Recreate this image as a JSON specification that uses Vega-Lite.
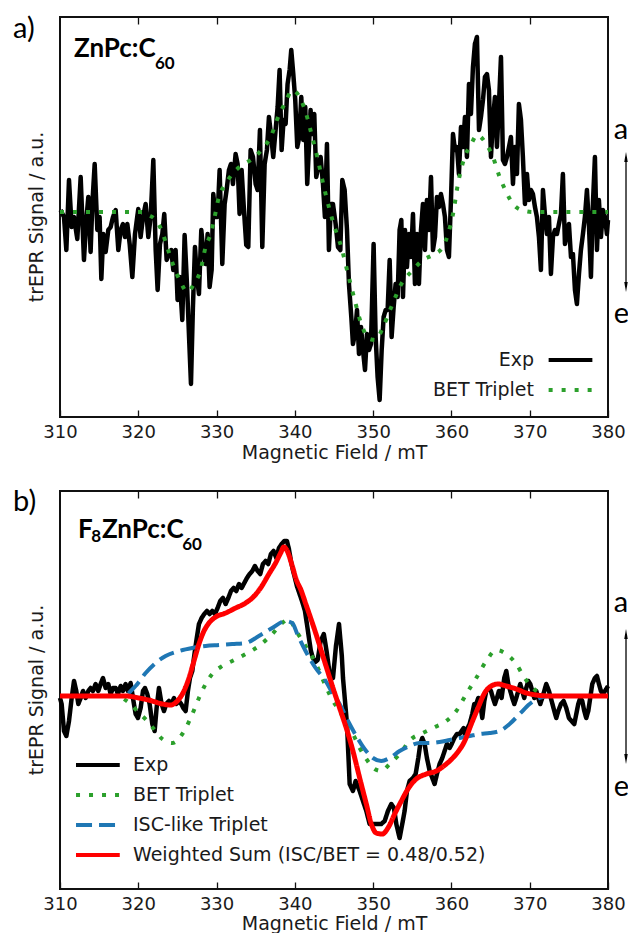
{
"$schema": "https://vega.github.io/schema/vega-lite/v6.json",
"autosize": {"type": "pad"},
"padding": {"left": 12, "top": 13, "right": 0, "bottom": 0},
"background": "white",
"bounds": "flush",
"spacing": 74,
"config": {
  "view": {"stroke": "#111111", "strokeWidth": 2},
  "axis": {"labelFont": "DejaVu Sans", "labelFontSize": 18, "titleFont": "DejaVu Sans", "titleFontSize": 19, "titleFontWeight": "normal", "labelColor": "#1a1a1a", "titleColor": "#1a1a1a", "grid": false, "domain": false, "tickColor": "#111111", "tickWidth": 1.3, "tickSize": -7, "labelPadding": 13, "labelFlush": false}
},
"datasets": {
  "aExp": [
    {"B":310.08,"S":2},{"B":310.51,"S":-5},{"B":310.81,"S":-38},{"B":311.15,"S":32},{"B":311.49,"S":-15},{"B":311.79,"S":-5},{"B":312.21,"S":-27},{"B":312.64,"S":35},{"B":313.06,"S":-48},{"B":313.36,"S":-8},{"B":313.62,"S":15},{"B":313.91,"S":-40},{"B":314.13,"S":8},{"B":314.43,"S":48},{"B":314.77,"S":-18},{"B":315.06,"S":-5},{"B":315.28,"S":-67},{"B":315.53,"S":-22},{"B":315.83,"S":-40},{"B":316.17,"S":-18},{"B":316.47,"S":-15},{"B":316.77,"S":-5},{"B":317.11,"S":2},{"B":317.45,"S":-38},{"B":317.75,"S":-18},{"B":318.04,"S":-12},{"B":318.3,"S":-25},{"B":318.6,"S":-12},{"B":318.9,"S":-32},{"B":319.24,"S":-65},{"B":319.58,"S":-22},{"B":320.0,"S":3},{"B":320.3,"S":-25},{"B":320.6,"S":-5},{"B":320.94,"S":8},{"B":321.28,"S":-25},{"B":321.58,"S":-5},{"B":321.92,"S":52},{"B":322.22,"S":-38},{"B":322.47,"S":-78},{"B":322.77,"S":-32},{"B":323.07,"S":-22},{"B":323.32,"S":-2},{"B":323.62,"S":-48},{"B":323.92,"S":-42},{"B":324.22,"S":-38},{"B":324.47,"S":-58},{"B":324.77,"S":-38},{"B":325.02,"S":-88},{"B":325.28,"S":-65},{"B":325.62,"S":-108},{"B":325.92,"S":-23},{"B":326.22,"S":-72},{"B":326.47,"S":-122},{"B":326.73,"S":-172},{"B":326.98,"S":-95},{"B":327.24,"S":-35},{"B":327.49,"S":-65},{"B":327.75,"S":-82},{"B":328.05,"S":-18},{"B":328.3,"S":-38},{"B":328.6,"S":-52},{"B":328.86,"S":-22},{"B":329.11,"S":-75},{"B":329.37,"S":-58},{"B":329.58,"S":18},{"B":329.88,"S":-5},{"B":330.13,"S":-5},{"B":330.39,"S":42},{"B":330.73,"S":-52},{"B":331.03,"S":8},{"B":331.28,"S":22},{"B":331.58,"S":42},{"B":331.84,"S":48},{"B":332.09,"S":28},{"B":332.43,"S":58},{"B":332.69,"S":48},{"B":332.94,"S":-2},{"B":333.2,"S":42},{"B":333.5,"S":2},{"B":333.79,"S":-33},{"B":334.05,"S":-35},{"B":334.35,"S":62},{"B":334.65,"S":55},{"B":334.99,"S":28},{"B":335.24,"S":22},{"B":335.54,"S":82},{"B":335.84,"S":-35},{"B":336.14,"S":48},{"B":336.43,"S":62},{"B":336.69,"S":95},{"B":336.99,"S":75},{"B":337.24,"S":55},{"B":337.54,"S":82},{"B":337.8,"S":105},{"B":338.05,"S":142},{"B":338.31,"S":62},{"B":338.56,"S":92},{"B":338.82,"S":88},{"B":339.07,"S":128},{"B":339.33,"S":142},{"B":339.54,"S":162},{"B":339.8,"S":138},{"B":340.05,"S":112},{"B":340.31,"S":65},{"B":340.56,"S":75},{"B":340.82,"S":115},{"B":341.07,"S":72},{"B":341.33,"S":105},{"B":341.58,"S":28},{"B":341.8,"S":65},{"B":342.01,"S":102},{"B":342.22,"S":78},{"B":342.48,"S":98},{"B":342.73,"S":35},{"B":342.99,"S":45},{"B":343.29,"S":55},{"B":343.59,"S":28},{"B":343.84,"S":-5},{"B":344.1,"S":68},{"B":344.35,"S":-38},{"B":344.61,"S":8},
    {"B":344.87,"S":8},{"B":345.21,"S":-12},{"B":345.51,"S":-35},{"B":345.81,"S":-38},{"B":346.06,"S":32},{"B":346.36,"S":22},{"B":346.66,"S":-18},{"B":346.91,"S":-72},{"B":347.21,"S":-105},{"B":347.42,"S":-132},{"B":347.68,"S":-122},{"B":347.94,"S":-98},{"B":348.19,"S":-142},{"B":348.45,"S":-115},{"B":348.7,"S":-138},{"B":348.96,"S":-158},{"B":349.21,"S":-122},{"B":349.47,"S":-138},{"B":349.72,"S":-132},{"B":350.06,"S":-32},{"B":350.32,"S":-125},{"B":350.57,"S":-165},{"B":350.83,"S":-188},{"B":351.09,"S":-138},{"B":351.34,"S":-105},{"B":351.6,"S":-98},{"B":351.85,"S":-98},{"B":352.11,"S":-48},{"B":352.36,"S":-125},{"B":352.62,"S":-95},{"B":352.87,"S":-72},{"B":353.13,"S":-85},{"B":353.38,"S":-18},{"B":353.6,"S":-8},{"B":353.81,"S":-85},{"B":354.07,"S":-18},{"B":354.32,"S":-55},{"B":354.58,"S":-22},{"B":354.83,"S":-45},{"B":355.09,"S":-2},{"B":355.34,"S":-72},{"B":355.6,"S":-22},{"B":355.85,"S":-72},{"B":356.11,"S":-18},{"B":356.36,"S":8},{"B":356.62,"S":-38},{"B":356.87,"S":12},{"B":357.13,"S":-18},{"B":357.39,"S":35},{"B":357.64,"S":-38},{"B":357.9,"S":-25},{"B":358.15,"S":15},{"B":358.41,"S":5},{"B":358.66,"S":18},{"B":358.92,"S":8},{"B":359.17,"S":-5},{"B":359.43,"S":-38},{"B":359.68,"S":-45},{"B":359.94,"S":12},{"B":360.2,"S":78},{"B":360.45,"S":62},{"B":360.71,"S":65},{"B":360.96,"S":38},{"B":361.22,"S":85},{"B":361.47,"S":65},{"B":361.73,"S":95},{"B":361.98,"S":55},{"B":362.24,"S":128},{"B":362.49,"S":98},{"B":362.75,"S":145},{"B":363.0,"S":168},{"B":363.26,"S":175},{"B":363.52,"S":82},{"B":363.77,"S":95},{"B":364.03,"S":112},{"B":364.28,"S":135},{"B":364.54,"S":138},{"B":364.79,"S":122},{"B":365.05,"S":55},{"B":365.3,"S":92},{"B":365.56,"S":115},{"B":365.81,"S":65},{"B":366.07,"S":108},{"B":366.33,"S":155},{"B":366.58,"S":52},{"B":366.84,"S":48},{"B":367.09,"S":55},{"B":367.35,"S":65},{"B":367.6,"S":75},{"B":367.86,"S":28},{"B":368.11,"S":65},{"B":368.37,"S":38},{"B":368.62,"S":108},{"B":368.88,"S":92},{"B":369.13,"S":55},{"B":369.39,"S":8},{"B":369.65,"S":38},{"B":369.9,"S":12},{"B":370.16,"S":22},{"B":370.41,"S":18},{"B":370.67,"S":5},{"B":370.92,"S":-5},{"B":371.18,"S":-25},{"B":371.43,"S":-58},{"B":371.69,"S":22},{"B":371.94,"S":-2},{"B":372.2,"S":-22},{"B":372.46,"S":-5},{"B":372.71,"S":-62},{"B":372.97,"S":-25},{"B":373.22,"S":-18},{"B":373.48,"S":-22},{"B":373.73,"S":-12},{"B":373.99,"S":-2},{"B":374.24,"S":38},{"B":374.5,"S":-32},{"B":374.76,"S":-22},{"B":375.01,"S":-12},{"B":375.27,"S":-45},{"B":375.52,"S":-42},{"B":375.78,"S":-78},{"B":376.03,"S":-92},{"B":376.29,"S":-62},{"B":376.54,"S":-38},{"B":376.8,"S":-22},{"B":377.05,"S":-5},{"B":377.31,"S":22},{"B":377.56,"S":-12},{"B":377.82,"S":-65},{"B":378.07,"S":8},{"B":378.33,"S":55},{"B":378.59,"S":-38},{"B":378.84,"S":12},{"B":379.1,"S":-25},{"B":379.35,"S":2},{"B":379.61,"S":-5},{"B":379.86,"S":-22},{"B":380.0,"S":-8}
  ],
  "aBET": [
    {"B":310,"S":0},{"B":316,"S":0},{"B":320.5,"S":0},{"B":321.3,"S":-3},{"B":322.22,"S":-8},{"B":323.07,"S":-20},{"B":323.57,"S":-32},{"B":324.56,"S":-55},{"B":325.41,"S":-70},{"B":326.26,"S":-80},{"B":327.11,"S":-72},{"B":327.96,"S":-58},{"B":328.6,"S":-35},{"B":329.24,"S":-22},{"B":329.67,"S":-8},{"B":330.3,"S":15},{"B":331.15,"S":28},{"B":332.0,"S":38},{"B":333.28,"S":47},{"B":334.56,"S":53},{"B":335.84,"S":63},{"B":336.9,"S":75},{"B":337.97,"S":97},{"B":338.82,"S":110},{"B":339.67,"S":122},{"B":340.73,"S":113},{"B":341.37,"S":100},{"B":342.22,"S":75},{"B":342.86,"S":55},{"B":343.71,"S":25},{"B":344.35,"S":5},{"B":344.87,"S":-10},{"B":345.93,"S":-35},{"B":346.79,"S":-62},{"B":347.64,"S":-88},{"B":348.49,"S":-112},{"B":349.55,"S":-127},{"B":350.32,"S":-128},{"B":351.26,"S":-115},{"B":352.32,"S":-95},{"B":353.6,"S":-72},{"B":355.09,"S":-58},{"B":356.36,"S":-48},{"B":357.64,"S":-43},{"B":358.92,"S":-35},{"B":359.56,"S":-22},{"B":360.2,"S":-2},{"B":360.83,"S":28},{"B":361.69,"S":55},{"B":362.54,"S":68},{"B":363.26,"S":77},{"B":364.45,"S":68},{"B":365.3,"S":55},{"B":366.16,"S":35},{"B":367.0,"S":20},{"B":367.86,"S":8},{"B":368.92,"S":2},{"B":370.41,"S":0},{"B":380,"S":0}
  ],
  "bExp": [
    {"B":310.0,"S":-2},{"B":310.21,"S":-8},{"B":310.51,"S":-35},{"B":310.81,"S":-40},{"B":311.15,"S":-25},{"B":311.49,"S":-2},{"B":311.79,"S":15},{"B":312.08,"S":5},{"B":312.34,"S":-8},{"B":312.64,"S":-2},{"B":312.94,"S":5},{"B":313.28,"S":-2},{"B":313.62,"S":5},{"B":313.91,"S":8},{"B":314.21,"S":5},{"B":314.55,"S":12},{"B":314.89,"S":5},{"B":315.19,"S":12},{"B":315.49,"S":18},{"B":315.83,"S":8},{"B":316.17,"S":12},{"B":316.47,"S":2},{"B":316.77,"S":8},{"B":317.11,"S":8},{"B":317.4,"S":2},{"B":317.75,"S":10},{"B":318.04,"S":5},{"B":318.38,"S":12},{"B":318.68,"S":5},{"B":319.02,"S":13},{"B":319.32,"S":-2},{"B":319.66,"S":-18},{"B":319.96,"S":-22},{"B":320.3,"S":-12},{"B":320.6,"S":5},{"B":320.85,"S":8},{"B":321.15,"S":2},{"B":321.45,"S":-8},{"B":321.79,"S":-28},{"B":322.09,"S":-35},{"B":322.34,"S":-12},{"B":322.64,"S":8},{"B":322.98,"S":-8},{"B":323.28,"S":-15},{"B":323.58,"S":-8},{"B":323.92,"S":-5},{"B":324.26,"S":-8},{"B":324.56,"S":-2},{"B":324.85,"S":-8},{"B":325.2,"S":-5},{"B":325.49,"S":-8},{"B":325.75,"S":-12},{"B":326.05,"S":-15},{"B":326.34,"S":5},{"B":326.6,"S":18},{"B":326.9,"S":25},{"B":327.11,"S":38},{"B":327.41,"S":55},{"B":327.75,"S":72},{"B":328.09,"S":78},{"B":328.43,"S":82},{"B":328.77,"S":85},{"B":329.11,"S":82},{"B":329.45,"S":85},{"B":329.79,"S":82},{"B":330.13,"S":88},{"B":330.47,"S":95},{"B":330.81,"S":98},{"B":331.16,"S":92},{"B":331.5,"S":98},{"B":331.84,"S":105},{"B":332.18,"S":108},{"B":332.52,"S":105},{"B":332.86,"S":112},{"B":333.2,"S":108},{"B":333.54,"S":113},{"B":333.88,"S":118},{"B":334.22,"S":122},{"B":334.56,"S":125},{"B":334.9,"S":130},{"B":335.24,"S":125},{"B":335.58,"S":122},{"B":335.92,"S":132},{"B":336.26,"S":135},{"B":336.6,"S":132},{"B":336.94,"S":142},{"B":337.28,"S":145},{"B":337.63,"S":138},{"B":337.97,"S":148},{"B":338.31,"S":152},{"B":338.65,"S":155},{"B":338.99,"S":155},{"B":339.24,"S":147},{"B":339.5,"S":135},{"B":339.75,"S":126},{"B":340.01,"S":118},{"B":340.26,"S":110},{"B":340.52,"S":104},{"B":340.78,"S":98},{"B":341.03,"S":92},{"B":341.29,"S":85},{"B":341.54,"S":72},{"B":341.8,"S":58},{"B":342.05,"S":45},{"B":342.31,"S":38},{"B":342.6,"S":34},{"B":342.91,"S":36},{"B":343.3,"S":55},{"B":343.7,"S":62},{"B":344.05,"S":45},{"B":344.4,"S":25},{"B":344.87,"S":18},{"B":345.25,"S":50},{"B":345.64,"S":72},{"B":346.0,"S":40},{"B":346.15,"S":18},{"B":346.66,"S":-28},{"B":347.0,"S":-88},{"B":347.42,"S":-95},{"B":347.76,"S":-85},{"B":348.28,"S":-95},{"B":348.7,"S":-105},{"B":349.13,"S":-115},{"B":349.55,"S":-128},{"B":349.98,"S":-128},{"B":350.4,"S":-128},{"B":351.04,"S":-128},{"B":351.47,"S":-125},{"B":351.89,"S":-115},{"B":352.32,"S":-108},{"B":352.66,"S":-112},{"B":352.96,"S":-128},{"B":353.38,"S":-142},{"B":353.72,"S":-128},{"B":354.02,"S":-115},{"B":354.32,"S":-95},{"B":354.66,"S":-85},{"B":355.09,"S":-82},{"B":355.43,"S":-78},{"B":355.77,"S":-62},{"B":356.02,"S":-48},{"B":356.28,"S":-42},{"B":356.58,"S":-48},{"B":356.87,"S":-62},{"B":357.22,"S":-75},{"B":357.56,"S":-82},{"B":357.85,"S":-88},{"B":358.15,"S":-78},{"B":358.49,"S":-68},{"B":358.83,"S":-62},{"B":359.13,"S":-55},{"B":359.43,"S":-48},{"B":359.77,"S":-52},{"B":360.03,"S":-48},{"B":360.37,"S":-42},{"B":360.71,"S":-38},{"B":361.05,"S":-38},{"B":361.3,"S":-35},{"B":361.56,"S":-32},{"B":361.81,"S":-42},{"B":362.07,"S":-32},{"B":362.32,"S":-28},{"B":362.66,"S":-18},{"B":362.92,"S":-8},{"B":363.17,"S":-8},{"B":363.43,"S":-2},{"B":363.69,"S":-8},{"B":363.94,"S":-22},{"B":364.2,"S":-5},{"B":364.45,"S":5},{"B":364.79,"S":8},{"B":365.05,"S":5},{"B":365.3,"S":-2},{"B":365.56,"S":-8},{"B":365.81,"S":-2},{"B":366.07,"S":5},{"B":366.41,"S":-2},{"B":366.75,"S":18},{"B":367.01,"S":25},{"B":367.26,"S":12},{"B":367.52,"S":5},{"B":367.77,"S":-2},{"B":368.03,"S":-8},{"B":368.28,"S":-2},{"B":368.54,"S":5},{"B":368.79,"S":12},{"B":369.05,"S":5},{"B":369.3,"S":-2},{"B":369.56,"S":8},{"B":369.82,"S":15},{"B":370.07,"S":12},{"B":370.33,"S":5},{"B":370.58,"S":-2},{"B":370.84,"S":5},{"B":371.09,"S":-2},{"B":371.35,"S":-8},{"B":371.6,"S":-2},{"B":371.86,"S":5},{"B":372.11,"S":12},{"B":372.46,"S":5},{"B":372.8,"S":-5},{"B":373.14,"S":-15},{"B":373.39,"S":-22},{"B":373.65,"S":-15},{"B":373.99,"S":-8},{"B":374.33,"S":-5},{"B":374.67,"S":-12},{"B":375.01,"S":-22},{"B":375.35,"S":-25},{"B":375.69,"S":-28},{"B":375.95,"S":-18},{"B":376.2,"S":-8},{"B":376.46,"S":-2},{"B":376.71,"S":-5},{"B":376.97,"S":-15},{"B":377.22,"S":-22},{"B":377.48,"S":-15},{"B":377.73,"S":-2},{"B":377.99,"S":12},{"B":378.33,"S":18},{"B":378.59,"S":20},{"B":378.84,"S":12},{"B":379.1,"S":5},{"B":379.35,"S":2},{"B":379.61,"S":5},{"B":379.86,"S":8},{"B":380.0,"S":10}
  ],
  "bBET": [
    {"B":310,"S":0},{"B":317.5,"S":0},{"B":317.96,"S":-2},{"B":319.02,"S":-8},{"B":320.09,"S":-17},{"B":321.15,"S":-25},{"B":322.0,"S":-33},{"B":323.07,"S":-43},{"B":324.34,"S":-47},{"B":325.62,"S":-38},{"B":326.69,"S":-22},{"B":327.75,"S":-2},{"B":328.6,"S":12},{"B":329.45,"S":22},{"B":330.73,"S":30},{"B":332.0,"S":35},{"B":333.71,"S":42},{"B":335.41,"S":50},{"B":337.11,"S":62},{"B":338.39,"S":73},{"B":339.24,"S":77},{"B":340.09,"S":66},{"B":341.37,"S":50},{"B":342.65,"S":33},{"B":343.93,"S":10},{"B":344.87,"S":-5},{"B":345.72,"S":-15},{"B":346.57,"S":-27},{"B":347.42,"S":-38},{"B":348.28,"S":-52},{"B":349.13,"S":-63},{"B":350.19,"S":-73},{"B":351.04,"S":-75},{"B":352.11,"S":-68},{"B":353.38,"S":-58},{"B":354.87,"S":-43},{"B":356.36,"S":-37},{"B":357.64,"S":-32},{"B":359.34,"S":-25},{"B":360.62,"S":-15},{"B":361.9,"S":2},{"B":363.17,"S":18},{"B":364.45,"S":35},{"B":365.73,"S":46},{"B":367.0,"S":42},{"B":368.28,"S":32},{"B":369.35,"S":18},{"B":370.41,"S":8},{"B":371.48,"S":2},{"B":372.54,"S":0},{"B":380,"S":0}
  ],
  "bISC": [
    {"B":310,"S":0},{"B":318.0,"S":0},{"B":319.66,"S":10},{"B":320.94,"S":23},{"B":322.22,"S":33},{"B":323.49,"S":40},{"B":325.2,"S":45},{"B":326.9,"S":48},{"B":328.6,"S":50},{"B":330.3,"S":51},{"B":332.0,"S":52},{"B":333.7,"S":53},{"B":335.4,"S":60},{"B":337.1,"S":68},{"B":338.8,"S":75},{"B":339.67,"S":73},{"B":340.31,"S":62},{"B":341.37,"S":45},{"B":342.65,"S":28},{"B":343.93,"S":15},{"B":344.87,"S":2},{"B":345.72,"S":-8},{"B":346.79,"S":-25},{"B":347.85,"S":-40},{"B":348.91,"S":-53},{"B":349.98,"S":-62},{"B":351.04,"S":-65},{"B":352.11,"S":-62},{"B":353.38,"S":-55},{"B":354.66,"S":-50},{"B":355.94,"S":-47},{"B":357.22,"S":-47},{"B":358.49,"S":-46},{"B":359.77,"S":-44},{"B":361.05,"S":-42},{"B":362.32,"S":-40},{"B":363.6,"S":-38},{"B":364.88,"S":-37},{"B":366.16,"S":-35},{"B":367.43,"S":-28},{"B":368.71,"S":-18},{"B":369.99,"S":-8},{"B":371.26,"S":-2},{"B":372.54,"S":0},{"B":380,"S":0}
  ],
  "bSum": [
    {"B":310,"S":0},{"B":318.38,"S":0},{"B":320.09,"S":-2},{"B":321.79,"S":-5},{"B":323.07,"S":-8},{"B":324.13,"S":-9},{"B":324.98,"S":-5},{"B":325.83,"S":5},{"B":326.47,"S":18},{"B":327.11,"S":35},{"B":327.75,"S":52},{"B":328.39,"S":65},{"B":329.03,"S":73},{"B":329.88,"S":79},{"B":331.16,"S":83},{"B":332.43,"S":88},{"B":333.5,"S":92},{"B":334.56,"S":98},{"B":335.62,"S":108},{"B":336.69,"S":122},{"B":337.54,"S":133},{"B":338.18,"S":143},{"B":338.6,"S":149},{"B":339.03,"S":145},{"B":339.63,"S":131},{"B":340.2,"S":116},{"B":340.78,"S":106},{"B":341.4,"S":92},{"B":342.06,"S":77},{"B":342.7,"S":62},{"B":343.34,"S":46},{"B":344.1,"S":27},{"B":344.87,"S":8},{"B":345.72,"S":-12},{"B":346.57,"S":-32},{"B":347.42,"S":-55},{"B":348.28,"S":-82},{"B":349.13,"S":-108},{"B":349.77,"S":-128},{"B":350.4,"S":-137},{"B":351.17,"S":-138},{"B":351.89,"S":-132},{"B":352.75,"S":-118},{"B":353.6,"S":-105},{"B":354.45,"S":-93},{"B":355.51,"S":-83},{"B":356.79,"S":-78},{"B":358.07,"S":-75},{"B":359.34,"S":-68},{"B":360.62,"S":-58},{"B":361.69,"S":-45},{"B":362.54,"S":-28},{"B":363.39,"S":-12},{"B":364.24,"S":3},{"B":365.09,"S":10},{"B":365.94,"S":12},{"B":367.0,"S":10},{"B":368.28,"S":7},{"B":369.56,"S":3},{"B":370.84,"S":1},{"B":372.54,"S":0},{"B":380,"S":0}
  ]
},
"vconcat": [
  {
    "width": 548, "height": 400,
    "resolve": {"axis": {"x": "independent"}},
    "layer": [
      {
        "data": {"name": "aExp"},
        "mark": {"type": "line", "strokeWidth": 4.5, "strokeJoin": "round"},
        "encoding": {
          "x": {"field": "B", "type": "quantitative", "scale": {"domain": [310, 380], "nice": false, "zero": false}, "axis": {"orient": "bottom", "values": [310,320,330,340,350,360,370,380], "format": "d", "title": "Magnetic Field / mT", "titlePadding": 2}},
          "y": {"field": "S", "type": "quantitative", "scale": {"domain": [-205, 195], "nice": false, "zero": false}, "axis": null},
          "color": {"datum": "Exp", "type": "nominal", "scale": {"domain": ["Exp", "BET Triplet"], "range": ["#000000", "#2ca02c"]},
            "legend": {"title": null, "orient": "none", "legendX": 491, "legendY": 323.5, "symbolType": "M-1.25,0L1.25,0", "symbolSize": 1225, "symbolStrokeWidth": 4, "labelFont": "DejaVu Sans", "labelFontSize": 19, "labelColor": "#1a1a1a", "labelAlign": "right", "labelOffset": -56, "rowPadding": 0, "padding": 0, "labelLimit": 0, "symbolOffset": 0}},
          "strokeDash": {"datum": "Exp", "type": "nominal", "scale": {"domain": ["Exp", "BET Triplet"], "range": [[1, 0], [4, 9]]}}
        }
      },
      {
        "data": {"name": "aBET"},
        "mark": {"type": "line", "strokeWidth": 4, "interpolate": "monotone"},
        "encoding": {
          "x": {"field": "B", "type": "quantitative", "axis": {"orient": "top", "values": [320,330,340,350,360,370], "labels": false, "title": null}},
          "y": {"field": "S", "type": "quantitative", "axis": null},
          "color": {"datum": "BET Triplet", "type": "nominal"},
          "strokeDash": {"datum": "BET Triplet", "type": "nominal"}
        }
      },
      {
        "data": {"values": [{}]},
        "mark": {"type": "text", "text": "trEPR Signal / a.u.", "font": "DejaVu Sans", "fontSize": 19, "angle": -90, "align": "center", "baseline": "alphabetic", "color": "#1a1a1a"},
        "encoding": {"x": {"datum": 307.89, "type": "quantitative", "axis": null}, "y": {"datum": -5, "type": "quantitative", "axis": null}}
      },
      {
        "data": {"values": [{}]},
        "mark": {"type": "text", "text": "a)", "font": "Lato", "fontSize": 29, "align": "left", "baseline": "alphabetic", "color": "#000000"},
        "encoding": {"x": {"datum": 304.0, "type": "quantitative", "axis": null}, "y": {"datum": 174, "type": "quantitative", "axis": null}}
      },
      {
        "data": {"values": [{}]},
        "mark": {"type": "text", "text": "ZnPc:C", "font": "Lato", "fontWeight": "bold", "fontSize": 26, "align": "left", "baseline": "alphabetic", "color": "#000000"},
        "encoding": {"x": {"datum": 311.79, "type": "quantitative", "axis": null}, "y": {"datum": 155, "type": "quantitative", "axis": null}}
      },
      {
        "data": {"values": [{}]},
        "mark": {"type": "text", "text": "60", "font": "Lato", "fontWeight": "bold", "fontSize": 17, "align": "left", "baseline": "alphabetic", "color": "#000000"},
        "encoding": {"x": {"datum": 322.13, "type": "quantitative", "axis": null}, "y": {"datum": 143, "type": "quantitative", "axis": null}}
      },
      {
        "data": {"values": [{}]},
        "mark": {"type": "text", "text": "a", "font": "Lato", "fontSize": 29, "align": "left", "baseline": "alphabetic", "color": "#000000"},
        "encoding": {"x": {"datum": 380.75, "type": "quantitative", "axis": null}, "y": {"datum": 73, "type": "quantitative", "axis": null}}
      },
      {
        "data": {"values": [{}]},
        "mark": {"type": "text", "text": "e", "font": "Lato", "fontSize": 29, "align": "left", "baseline": "alphabetic", "color": "#000000"},
        "encoding": {"x": {"datum": 380.75, "type": "quantitative", "axis": null}, "y": {"datum": -111, "type": "quantitative", "axis": null}}
      },
      {
        "data": {"values": [{}]},
        "mark": {"type": "rule", "strokeWidth": 1.3, "color": "#000000"},
        "encoding": {"x": {"datum": 382.3, "type": "quantitative", "axis": null}, "y": {"datum": 55, "type": "quantitative", "axis": null}, "y2": {"datum": -75}}
      },
      {
        "data": {"values": [{}]},
        "mark": {"type": "point", "shape": "M0,-1L0.35,1L-0.35,1Z", "filled": true, "size": 100, "color": "#000000", "opacity": 1},
        "encoding": {"x": {"datum": 382.3, "type": "quantitative", "axis": null}, "y": {"datum": 55, "type": "quantitative", "axis": null}}
      },
      {
        "data": {"values": [{}]},
        "mark": {"type": "point", "shape": "M0,1L0.35,-1L-0.35,-1Z", "filled": true, "size": 100, "color": "#000000", "opacity": 1},
        "encoding": {"x": {"datum": 382.3, "type": "quantitative", "axis": null}, "y": {"datum": -75, "type": "quantitative", "axis": null}}
      }
    ]
  },
  {
    "width": 548, "height": 398,
    "resolve": {"axis": {"x": "independent"}},
    "layer": [
      {
        "data": {"name": "bExp"},
        "mark": {"type": "line", "strokeWidth": 4.5, "strokeJoin": "round"},
        "encoding": {
          "x": {"field": "B", "type": "quantitative", "scale": {"domain": [310, 380], "nice": false, "zero": false}, "axis": {"orient": "bottom", "values": [310,320,330,340,350,360,370,380], "format": "d", "title": "Magnetic Field / mT", "titlePadding": 1}},
          "y": {"field": "S", "type": "quantitative", "scale": {"domain": [-193, 205], "nice": false, "zero": false}, "axis": null},
          "color": {"datum": "Exp", "type": "nominal", "scale": {"domain": ["Exp", "BET Triplet", "ISC-like Triplet", "Weighted Sum (ISC/BET = 0.48/0.52)"], "range": ["#000000", "#2ca02c", "#1f77b4", "#ff0000"]},
            "legend": {"title": null, "orient": "none", "legendX": 18.4, "legendY": 254.5, "symbolType": "M-1.25,0L1.25,0", "symbolSize": 1225, "symbolStrokeWidth": 4, "labelFont": "DejaVu Sans", "labelFontSize": 19, "labelColor": "#1a1a1a", "labelAlign": "left", "labelOffset": 15.6, "rowPadding": 0, "padding": 0, "labelLimit": 0, "symbolOffset": 0}},
          "strokeDash": {"datum": "Exp", "type": "nominal", "scale": {"domain": ["Exp", "BET Triplet", "ISC-like Triplet", "Weighted Sum (ISC/BET = 0.48/0.52)"], "range": [[1, 0], [4, 9], [16, 7], [1, 0]]}}
        }
      },
      {
        "data": {"name": "bBET"},
        "mark": {"type": "line", "strokeWidth": 4, "interpolate": "monotone"},
        "encoding": {
          "x": {"field": "B", "type": "quantitative", "axis": {"orient": "top", "values": [320,330,340,350,360,370], "labels": false, "title": null}},
          "y": {"field": "S", "type": "quantitative", "axis": null},
          "color": {"datum": "BET Triplet", "type": "nominal"},
          "strokeDash": {"datum": "BET Triplet", "type": "nominal"}
        }
      },
      {
        "data": {"name": "bISC"},
        "mark": {"type": "line", "strokeWidth": 4, "interpolate": "monotone"},
        "encoding": {
          "x": {"field": "B", "type": "quantitative", "axis": null},
          "y": {"field": "S", "type": "quantitative", "axis": null},
          "color": {"datum": "ISC-like Triplet", "type": "nominal"},
          "strokeDash": {"datum": "ISC-like Triplet", "type": "nominal"}
        }
      },
      {
        "data": {"name": "bSum"},
        "mark": {"type": "line", "strokeWidth": 5, "interpolate": "monotone", "strokeJoin": "round"},
        "encoding": {
          "x": {"field": "B", "type": "quantitative", "axis": null},
          "y": {"field": "S", "type": "quantitative", "axis": null},
          "color": {"datum": "Weighted Sum (ISC/BET = 0.48/0.52)", "type": "nominal"},
          "strokeDash": {"datum": "Weighted Sum (ISC/BET = 0.48/0.52)", "type": "nominal"}
        }
      },
      {
        "data": {"values": [{}]},
        "mark": {"type": "text", "text": "trEPR Signal / a.u.", "font": "DejaVu Sans", "fontSize": 19, "angle": -90, "align": "center", "baseline": "alphabetic", "color": "#1a1a1a"},
        "encoding": {"x": {"datum": 307.89, "type": "quantitative", "axis": null}, "y": {"datum": 6, "type": "quantitative", "axis": null}}
      },
      {
        "data": {"values": [{}]},
        "mark": {"type": "text", "text": "b)", "font": "Lato", "fontSize": 29, "align": "left", "baseline": "alphabetic", "color": "#000000"},
        "encoding": {"x": {"datum": 304.0, "type": "quantitative", "axis": null}, "y": {"datum": 185, "type": "quantitative", "axis": null}}
      },
      {
        "data": {"values": [{}]},
        "mark": {"type": "text", "text": "F", "font": "Lato", "fontWeight": "bold", "fontSize": 26, "align": "left", "baseline": "alphabetic", "color": "#000000"},
        "encoding": {"x": {"datum": 312.3, "type": "quantitative", "axis": null}, "y": {"datum": 158, "type": "quantitative", "axis": null}}
      },
      {
        "data": {"values": [{}]},
        "mark": {"type": "text", "text": "8", "font": "Lato", "fontWeight": "bold", "fontSize": 17, "align": "left", "baseline": "alphabetic", "color": "#000000"},
        "encoding": {"x": {"datum": 314.0, "type": "quantitative", "axis": null}, "y": {"datum": 154, "type": "quantitative", "axis": null}}
      },
      {
        "data": {"values": [{}]},
        "mark": {"type": "text", "text": "ZnPc:C", "font": "Lato", "fontWeight": "bold", "fontSize": 26, "align": "left", "baseline": "alphabetic", "color": "#000000"},
        "encoding": {"x": {"datum": 315.35, "type": "quantitative", "axis": null}, "y": {"datum": 158, "type": "quantitative", "axis": null}}
      },
      {
        "data": {"values": [{}]},
        "mark": {"type": "text", "text": "60", "font": "Lato", "fontWeight": "bold", "fontSize": 17, "align": "left", "baseline": "alphabetic", "color": "#000000"},
        "encoding": {"x": {"datum": 325.6, "type": "quantitative", "axis": null}, "y": {"datum": 146, "type": "quantitative", "axis": null}}
      },
      {
        "data": {"values": [{}]},
        "mark": {"type": "text", "text": "a", "font": "Lato", "fontSize": 29, "align": "left", "baseline": "alphabetic", "color": "#000000"},
        "encoding": {"x": {"datum": 380.75, "type": "quantitative", "axis": null}, "y": {"datum": 84, "type": "quantitative", "axis": null}}
      },
      {
        "data": {"values": [{}]},
        "mark": {"type": "text", "text": "e", "font": "Lato", "fontSize": 29, "align": "left", "baseline": "alphabetic", "color": "#000000"},
        "encoding": {"x": {"datum": 380.75, "type": "quantitative", "axis": null}, "y": {"datum": -100, "type": "quantitative", "axis": null}}
      },
      {
        "data": {"values": [{}]},
        "mark": {"type": "rule", "strokeWidth": 1.3, "color": "#000000"},
        "encoding": {"x": {"datum": 382.3, "type": "quantitative", "axis": null}, "y": {"datum": 62, "type": "quantitative", "axis": null}, "y2": {"datum": -63}}
      },
      {
        "data": {"values": [{}]},
        "mark": {"type": "point", "shape": "M0,-1L0.35,1L-0.35,1Z", "filled": true, "size": 100, "color": "#000000", "opacity": 1},
        "encoding": {"x": {"datum": 382.3, "type": "quantitative", "axis": null}, "y": {"datum": 62, "type": "quantitative", "axis": null}}
      },
      {
        "data": {"values": [{}]},
        "mark": {"type": "point", "shape": "M0,1L0.35,-1L-0.35,-1Z", "filled": true, "size": 100, "color": "#000000", "opacity": 1},
        "encoding": {"x": {"datum": 382.3, "type": "quantitative", "axis": null}, "y": {"datum": -63, "type": "quantitative", "axis": null}}
      }
    ]
  }
],
"resolve": {"scale": {"color": "independent", "strokeDash": "independent"}, "legend": {"color": "independent", "strokeDash": "independent"}}
}
